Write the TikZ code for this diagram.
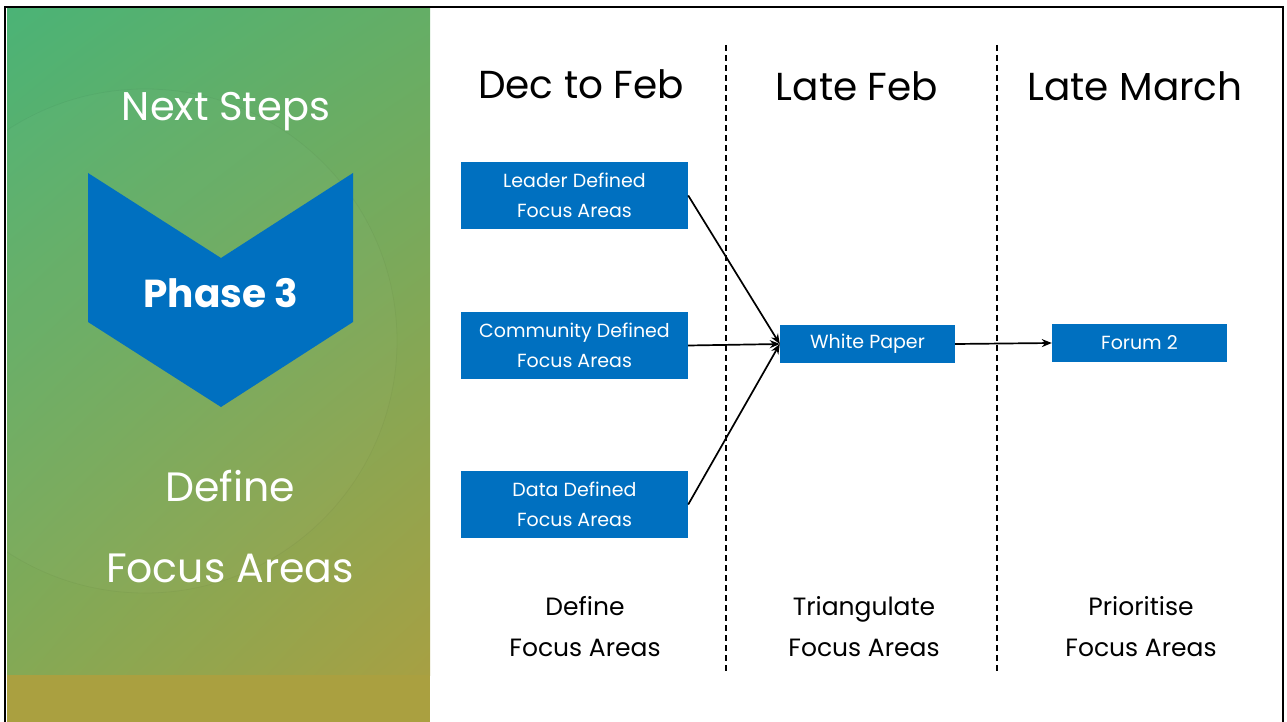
\documentclass[tikz,border=0pt]{standalone}
\usepackage{fontspec}
\setmainfont{Poppins}
\usetikzlibrary{arrows.meta,shadings}
\definecolor{phaseblue}{HTML}{0070C0}
\definecolor{gTL}{HTML}{4BB376}
\definecolor{gTR}{HTML}{64AE66}
\definecolor{gBL}{HTML}{84A955}
\definecolor{gBR}{HTML}{A7A043}
\definecolor{gBand}{HTML}{AAA040}
\tikzset{
  x=1pt, y=-1pt,
  box_b/.style = {fill=phaseblue, text=white, align=center, inner sep=0pt, font=\fontsize{19}{29.5}\selectfont},
  box_big/.style = {box_b, minimum width=227pt, minimum height=67pt},
  box_small/.style = {box_b, minimum width=175pt, minimum height=38pt},
  head_t/.style = {font=\fontsize{39}{40}\selectfont, inner sep=0pt},
  foot_t/.style = {align=center, inner sep=0pt, font=\fontsize{25}{41}\selectfont},
  panel_t/.style = {text=white, inner sep=0pt, font=\fontsize{41}{40}\selectfont},
  sep_line/.style = {line width=1.2pt, dash pattern=on 6pt off 4pt},
  conn/.style = {line width=1.7pt, -{Stealth[length=10pt,width=8pt]}}
}
\begin{document}
\begin{tikzpicture}
\useasboundingbox (0,0) rectangle (1287,722);
% left panel
\shade[upper left=gTL, upper right=gTR, lower left=gBL, lower right=gBR] (7,9) rectangle (430,675);
\fill[gBand] (7,675) rectangle (430,722);
\begin{scope}
  \clip (7,9) rectangle (430,675);
  \fill[white, opacity=0.02] (145,341) circle (252);
  \draw[black, opacity=0.035, line width=0.8pt] (145,341) circle (252);
\end{scope}
\fill[phaseblue] (88,173) -- (221,258) -- (353,173) -- (353,322) -- (221,407) -- (88,322) -- cycle;
\node[panel_t, font=\fontsize{40}{40}\selectfont] (nxt) at (226,112) {Next Steps};
\node[panel_t, font=\fontsize{39}{40}\selectfont\bfseries] (phase) at (221,293) {Phase 3};
\node[panel_t] (def1) at (230,486) {Define};
\node[panel_t] (def2) at (230,568) {Focus Areas};
% frame
\draw[line width=2pt] (5,722) -- (5,7) -- (1283,7) -- (1283,722);
% columns
\draw[sep_line] (726,45) -- (726,673);
\draw[sep_line] (997,45) -- (997,673);
\node[head_t] (hd1) at (581,84) {Dec to Feb};
\node[head_t] (hd2) at (857,86) {Late Feb};
\node[head_t] (hd3) at (1135,86) {Late March};
% boxes
\node[box_big] (lead) at (574.5,195.5) {Leader Defined\\Focus Areas};
\node[box_big] (comm) at (574.5,345.5) {Community Defined\\Focus Areas};
\node[box_big] (data) at (574.5,504.5) {Data Defined\\Focus Areas};
\node[box_small] (paper) at (867.5,344) {White Paper};
\node[box_small] (forum) at (1139.5,343) {Forum 2};
\draw[conn] (lead.east) -- (paper.west);
\draw[conn] (comm.east) -- (paper.west);
\draw[conn] (data.east) -- (paper.west);
\draw[conn] (paper.east) -- (forum.west);
% footers
\node[foot_t] (ft1) at (585,627) {Define\\Focus Areas};
\node[foot_t] (ft2) at (864,627) {Triangulate\\Focus Areas};
\node[foot_t] (ft3) at (1141,627) {Prioritise\\Focus Areas};
\end{tikzpicture}
\end{document}
